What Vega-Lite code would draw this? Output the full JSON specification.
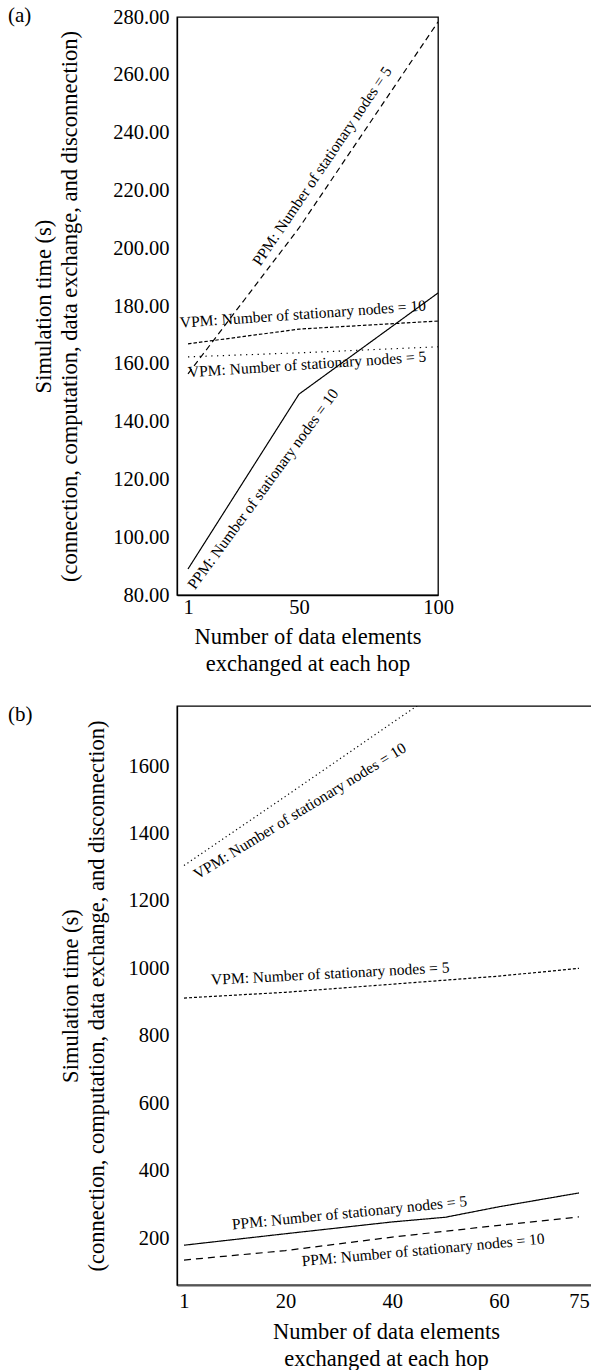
{
  "$schema": "https://vega.github.io/schema/vega-lite/v6.json",
  "padding": {"left": 7, "top": 4, "right": 0, "bottom": 0},
  "background": "white",
  "spacing": 27,
  "resolve": {"scale": {"strokeDash": "independent"}},
  "config": {
    "font": "Liberation Serif",
    "view": {"stroke": "black", "strokeWidth": 1.3},
    "axis": {
      "grid": false, "ticks": false, "tickSize": 0,
      "domainColor": "black", "domainWidth": 1.3,
      "labelColor": "black", "titleColor": "black",
      "labelFont": "Liberation Serif", "titleFont": "Liberation Serif",
      "labelFontSize": 20.5, "titleFontSize": 22.5, "titleFontWeight": "normal",
      "labelFlush": false, "labelOverlap": false, "labelPadding": 4
    },
    "axisX": {"titleLineHeight": 27},
    "axisY": {"titleLineHeight": 26, "labelPadding": 8},
    "title": {"font": "Liberation Serif", "fontSize": 21, "fontWeight": "normal", "color": "black", "anchor": "start", "frame": "group"},
    "text": {"font": "Liberation Serif", "fontSize": 15.5, "color": "black"}
  },
  "datasets": {
    "a_lines": [
      {"series": "PPM5", "x": 1, "y": 156.5},
      {"series": "PPM5", "x": 50, "y": 207},
      {"series": "PPM5", "x": 100, "y": 278.3},
      {"series": "PPM10", "x": 1, "y": 89},
      {"series": "PPM10", "x": 50, "y": 149.5},
      {"series": "PPM10", "x": 100, "y": 184.5},
      {"series": "VPM10", "x": 1, "y": 166.9},
      {"series": "VPM10", "x": 50, "y": 172},
      {"series": "VPM10", "x": 100, "y": 174.8},
      {"series": "VPM5", "x": 1, "y": 162.4},
      {"series": "VPM5", "x": 50, "y": 163.8},
      {"series": "VPM5", "x": 100, "y": 165.9}
    ],
    "a_labels": [
      {"id": "PPM5", "x": 58.3, "y": 228.4, "text": "PPM: Number of stationary nodes = 5"},
      {"id": "VPM10", "x": 51.4, "y": 177.2, "text": "VPM: Number of stationary nodes = 10"},
      {"id": "VPM5", "x": 52.9, "y": 159.8, "text": "VPM: Number of stationary nodes = 5"},
      {"id": "PPM10", "x": 34.1, "y": 116.7, "text": "PPM: Number of stationary nodes = 10"}
    ],
    "b_lines": [
      {"series": "VPM10", "x": 1, "y": 1305},
      {"series": "VPM10", "x": 20, "y": 1510},
      {"series": "VPM10", "x": 40, "y": 1728},
      {"series": "VPM10", "x": 45, "y": 1782},
      {"series": "VPM5", "x": 1, "y": 912},
      {"series": "VPM5", "x": 20, "y": 929},
      {"series": "VPM5", "x": 40, "y": 953},
      {"series": "VPM5", "x": 60, "y": 977},
      {"series": "VPM5", "x": 75, "y": 1000},
      {"series": "PPM5", "x": 1, "y": 179},
      {"series": "PPM5", "x": 20, "y": 213},
      {"series": "PPM5", "x": 40, "y": 248},
      {"series": "PPM5", "x": 50, "y": 262},
      {"series": "PPM5", "x": 60, "y": 293},
      {"series": "PPM5", "x": 75, "y": 334},
      {"series": "PPM10", "x": 1, "y": 135},
      {"series": "PPM10", "x": 20, "y": 163},
      {"series": "PPM10", "x": 40, "y": 203},
      {"series": "PPM10", "x": 60, "y": 238},
      {"series": "PPM10", "x": 75, "y": 263}
    ],
    "b_labels": [
      {"id": "VPM10", "x": 22.7, "y": 1466.5, "text": "VPM: Number of stationary nodes = 10"},
      {"id": "VPM5", "x": 28.4, "y": 984.5, "text": "VPM: Number of stationary nodes = 5"},
      {"id": "PPM5", "x": 32.0, "y": 275, "text": "PPM: Number of stationary nodes = 5"},
      {"id": "PPM10", "x": 45.8, "y": 165, "text": "PPM: Number of stationary nodes = 10"}
    ]
  },
  "vconcat": [
    {
      "width": 261,
      "height": 578,
      "title": {"text": "(a)", "dx": -169, "dy": 19, "offset": 0},
      "encoding": {
        "x": {
          "field": "x", "type": "quantitative",
          "scale": {"domain": [-3.86, 50, 100], "range": [0, 122, 261], "nice": false, "zero": false},
          "axis": {"values": [1, 50, 100], "labelPadding": 2, "titlePadding": 8,
                   "title": ["Number of data elements", "exchanged at each hop"]}
        },
        "y": {
          "field": "y", "type": "quantitative",
          "scale": {"domain": [80, 280], "nice": false, "zero": false},
          "axis": {"values": [80, 100, 120, 140, 160, 180, 200, 220, 240, 260, 280], "format": ".2f", "titlePadding": 31,
                   "title": ["Simulation time (s)", "(connection, computation, data exchange, and disconnection)"]}
        }
      },
      "layer": [
        {
          "data": {"name": "a_lines"},
          "mark": {"type": "line", "color": "black", "strokeWidth": 1.2, "clip": true},
          "encoding": {
            "detail": {"field": "series", "type": "nominal"},
            "strokeDash": {
              "field": "series", "type": "nominal", "legend": null,
              "scale": {"domain": ["PPM5", "PPM10", "VPM10", "VPM5"], "range": [[6, 4], [1, 0], [3.5, 2], [1.3, 4.5]]}
            }
          }
        },
        {
          "data": {"name": "a_labels"},
          "transform": [{"filter": "datum.id == 'PPM5'"}],
          "mark": {"type": "text", "angle": 304},
          "encoding": {"text": {"field": "text"}}
        },
        {
          "data": {"name": "a_labels"},
          "transform": [{"filter": "datum.id == 'VPM10'"}],
          "mark": {"type": "text", "angle": 356},
          "encoding": {"text": {"field": "text"}}
        },
        {
          "data": {"name": "a_labels"},
          "transform": [{"filter": "datum.id == 'VPM5'"}],
          "mark": {"type": "text", "angle": 356.2},
          "encoding": {"text": {"field": "text"}}
        },
        {
          "data": {"name": "a_labels"},
          "transform": [{"filter": "datum.id == 'PPM10'"}],
          "mark": {"type": "text", "angle": 306.2},
          "encoding": {"text": {"field": "text"}}
        }
      ]
    },
    {
      "width": 418,
      "height": 579,
      "title": {"text": "(b)", "dx": -169, "dy": 19, "offset": 0},
      "encoding": {
        "x": {
          "field": "x", "type": "quantitative",
          "scale": {"domain": [-0.31, 78.0], "nice": false, "zero": false},
          "axis": {"values": [1, 20, 40, 60, 75], "labelPadding": 6, "titlePadding": 9,
                   "domainColor": "#555555", "domainWidth": 2.2,
                   "title": ["Number of data elements", "exchanged at each hop"]}
        },
        "y": {
          "field": "y", "type": "quantitative",
          "scale": {"domain": [61, 1778], "nice": false, "zero": false},
          "axis": {"values": [200, 400, 600, 800, 1000, 1200, 1400, 1600], "format": "d", "titlePadding": 20,
                   "title": ["Simulation time (s)", "(connection, computation, data exchange, and disconnection)"]}
        }
      },
      "layer": [
        {
          "data": {"name": "b_lines"},
          "mark": {"type": "line", "color": "black", "strokeWidth": 1.2, "clip": true},
          "encoding": {
            "detail": {"field": "series", "type": "nominal"},
            "strokeDash": {
              "field": "series", "type": "nominal", "legend": null,
              "scale": {"domain": ["VPM10", "VPM5", "PPM5", "PPM10"], "range": [[1.2, 3], [3, 2], [1, 0], [7, 5]]}
            }
          }
        },
        {
          "data": {"name": "b_labels"},
          "transform": [{"filter": "datum.id == 'VPM10'"}],
          "mark": {"type": "text", "angle": 328.4},
          "encoding": {"text": {"field": "text"}}
        },
        {
          "data": {"name": "b_labels"},
          "transform": [{"filter": "datum.id == 'VPM5'"}],
          "mark": {"type": "text", "angle": 357},
          "encoding": {"text": {"field": "text"}}
        },
        {
          "data": {"name": "b_labels"},
          "transform": [{"filter": "datum.id == 'PPM5'"}],
          "mark": {"type": "text", "angle": 354.3},
          "encoding": {"text": {"field": "text"}}
        },
        {
          "data": {"name": "b_labels"},
          "transform": [{"filter": "datum.id == 'PPM10'"}],
          "mark": {"type": "text", "angle": 354.7},
          "encoding": {"text": {"field": "text"}}
        }
      ]
    }
  ]
}
